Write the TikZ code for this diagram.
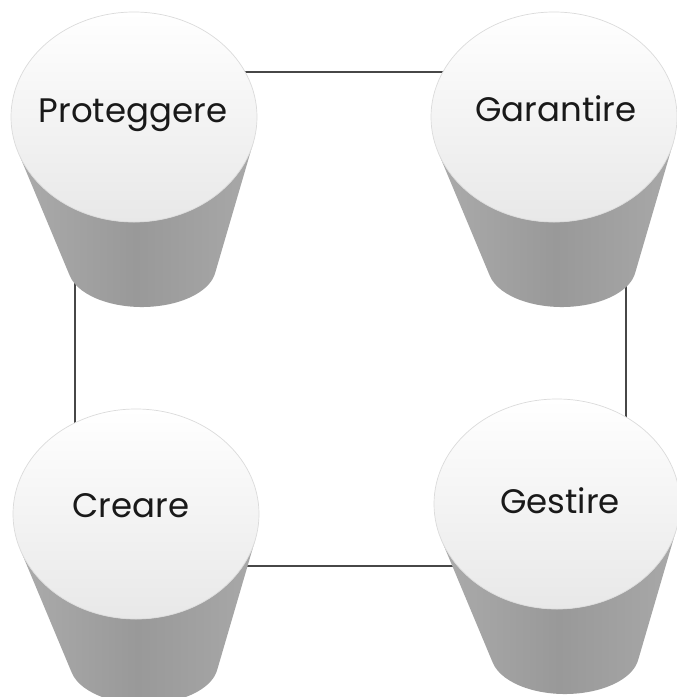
\documentclass[tikz,border=0pt]{standalone}
\usepackage{fontspec}
\setmainfont{Poppins}
\usetikzlibrary{shapes.geometric}
\tikzset{
  drumtop/.style={ellipse,draw=black!14,line width=0.6pt,top color=white,
    bottom color=black!9,inner sep=0pt,minimum width=7.38cm,minimum height=6.3cm},
  drumside/.style={left color=black!33,right color=black!34,middle color=black!40},
  link/.style={draw=black!72,line width=1.1pt},
  caption/.style={font=\fontsize{29}{33}\selectfont,text=black!90,anchor=base,
    inner sep=0pt},
  % side of a drum, tangent to the lid (123 x 105) and the bottom (74 x 40)
  pics/drumbody/.style={code={
    \path[drumside] (160.4:123 and 105) -- (-64.2,158.8)
      arc[start angle=167.3,end angle=9,x radius=74,y radius=40]
      -- (14:123 and 105)
      arc[start angle=14,end angle=160.4,x radius=123,y radius=105] -- cycle;
  }}
}

\begin{document}
\begin{tikzpicture}[x=0.03cm,y=-0.03cm]
  \useasboundingbox (0,0) rectangle (677,697);
  \clip (0,0) rectangle (677,697);

  % frame behind the drums
  \coordinate (nw) at (75,72);
  \coordinate (ne) at (626,72);
  \coordinate (se) at (626,566);
  \coordinate (sw) at (75,566);
  \draw[link] (nw) -- (ne) -- (se) -- (sw) -- cycle;

  % drums
  \pic at (134,117) {drumbody};
  \node[drumtop] (proteggere) at (134,117) {};
  \pic at (554,117) {drumbody};
  \node[drumtop] (garantire) at (554,117) {};
  \pic at (136,514) {drumbody};
  \node[drumtop] (creare) at (136,514) {};
  \pic at (557,504) {drumbody};
  \node[drumtop] (gestire) at (557,504) {};

  \node[caption] (proteggere-txt) at (133,122) {Proteggere};
  \node[caption] (garantire-txt)  at (556,121) {Garantire};
  \node[caption] (creare-txt)     at (131,517) {Creare};
  \node[caption] (gestire-txt)    at (560,513) {Gestire};
\end{tikzpicture}
\end{document}
